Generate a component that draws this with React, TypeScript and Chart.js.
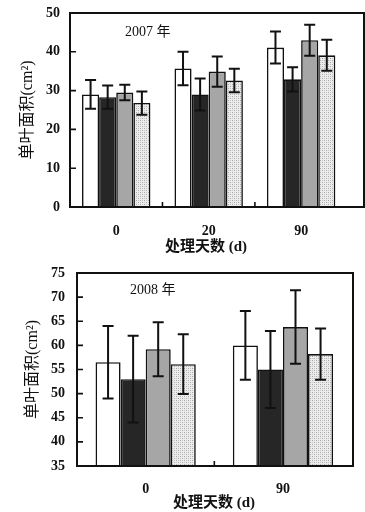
import React, { useEffect, useRef } from "react";
import { Chart, registerables } from "chart.js";

Chart.register(...registerables);

// ---- 2007 data ----
const categories2007 = ["0", "20", "90"];
const a2007 = [29, 35.7, 41.1];
const b2007 = [28.3, 29, 32.9];
const c2007 = [29.5, 34.9, 43];
const d2007 = [26.8, 32.6, 39.1];
const aErr2007 = [3.7, 4.3, 4.1];
const bErr2007 = [3, 4.1, 3.1];
const cErr2007 = [2, 3.9, 4];
const dErr2007 = [3, 3, 4];
const yTicks2007 = [0, 10, 20, 30, 40, 50];

// ---- 2008 data ----
const categories2008 = ["0", "90"];
const a2008 = [56.5, 60];
const b2008 = [53, 55];
const c2008 = [59.2, 63.8];
const d2008 = [56.1, 58.2];
const aErr2008 = [7.5, 7.1];
const bErr2008 = [9, 8];
const cErr2008 = [5.6, 7.6];
const dErr2008 = [6.2, 5.3];
const yTicks2008 = [35, 40, 45, 50, 55, 60, 65, 70, 75];

const yTitle = "单叶面积(cm²)";
const xTitle = "处理天数 (d)";
const year2007 = "2007 年";
const year2008 = "2008 年";

const FONT = "'Liberation Serif', 'Noto Sans CJK SC', serif";

function makePattern(): CanvasPattern | string {
  const c = document.createElement("canvas");
  c.width = 4;
  c.height = 4;
  const ctx = c.getContext("2d");
  if (!ctx) return "#d8d8d8";
  ctx.fillStyle = "#ececec";
  ctx.fillRect(0, 0, 4, 4);
  ctx.fillStyle = "#a8a8a8";
  ctx.fillRect(0, 0, 1, 1);
  ctx.fillRect(2, 2, 1, 1);
  ctx.fillStyle = "#c8c8c8";
  ctx.fillRect(2, 0, 1, 1);
  ctx.fillRect(0, 2, 1, 1);
  const p = ctx.createPattern(c, "repeat");
  return p || "#d8d8d8";
}

interface Spec {
  categories: string[];
  series: number[][];
  errors: number[][];
  yTicks: number[];
  yMin: number;
  yMax: number;
  xMax: number;
  yAxisWidth: number;
  yLabelPad: number;
  rightPad: number;
  xAxisHeight: number;
  catPct: number;
  year: string;
  yearX: number;
  yearY: number;
  yTitleX: number;
  xTitleX: number;
  xTitleY: number;
  labelPad: number;
}

function buildChart(canvas: HTMLCanvasElement, s: Spec) {
  const fills: (string | CanvasPattern)[] = ["#ffffff", "#262626", "#a6a6a6", makePattern()];
  const datasets = s.series.map((vals, i) => ({
    data: s.categories.map((_, j) => ({ x: j, y: vals[j] })),
    backgroundColor: fills[i],
    borderColor: "#111",
    borderWidth: 1.6,
    borderSkipped: "bottom" as const,
    categoryPercentage: s.catPct,
    barPercentage: 1,
  }));

  const decor = {
    id: "decor",
    afterDatasetsDraw(chart: any) {
      const ctx = chart.ctx;
      const y = chart.scales.y;
      ctx.save();
      ctx.strokeStyle = "#111";
      ctx.lineWidth = 2;
      chart.data.datasets.forEach((_: any, i: number) => {
        const meta = chart.getDatasetMeta(i);
        meta.data.forEach((bar: any, j: number) => {
          const v = s.series[i][j];
          const e = s.errors[i][j];
          const x = bar.x;
          const yt = y.getPixelForValue(v + e);
          const yb = y.getPixelForValue(v - e);
          ctx.beginPath();
          ctx.moveTo(x, yt);
          ctx.lineTo(x, yb);
          ctx.moveTo(x - 5.5, yt);
          ctx.lineTo(x + 5.5, yt);
          ctx.moveTo(x - 5.5, yb);
          ctx.lineTo(x + 5.5, yb);
          ctx.stroke();
        });
      });
      ctx.restore();
    },
    afterDraw(chart: any) {
      const ctx = chart.ctx;
      const a = chart.chartArea;
      const x = chart.scales.x;
      const y = chart.scales.y;
      ctx.save();
      ctx.strokeStyle = "#111";
      ctx.lineWidth = 2;
      ctx.strokeRect(a.left, a.top, a.right - a.left, a.bottom - a.top);
      ctx.lineWidth = 1.6;
      ctx.beginPath();
      s.yTicks.forEach((t) => {
        const py = y.getPixelForValue(t);
        if (t === s.yMin || t === s.yMax) return;
        ctx.moveTo(a.left, py);
        ctx.lineTo(a.left + 6, py);
      });
      for (let j = 0; j < s.categories.length - 1; j++) {
        const px = x.getPixelForValue(j + 0.5);
        ctx.moveTo(px, a.bottom);
        ctx.lineTo(px, a.bottom - 5);
      }
      ctx.stroke();

      ctx.fillStyle = "#111";
      ctx.textAlign = "left";
      ctx.textBaseline = "middle";
      ctx.font = `14px ${FONT}`;
      ctx.fillText(s.year, s.yearX, s.yearY);

      ctx.textAlign = "center";
      ctx.font = `bold 15px ${FONT}`;
      ctx.fillText(xTitle, s.xTitleX, s.xTitleY);

      ctx.save();
      ctx.translate(s.yTitleX, (a.top + a.bottom) / 2);
      ctx.rotate(-Math.PI / 2);
      ctx.font = `16px ${FONT}`;
      ctx.fillText(yTitle, 0, 0);
      ctx.restore();
      ctx.restore();
    },
  };

  return new Chart(canvas, {
    type: "bar",
    data: { datasets: datasets as any },
    options: {
      animation: false,
      responsive: false,
      maintainAspectRatio: false,
      layout: { padding: { top: 13, right: s.rightPad, left: 0, bottom: 0 } },
      plugins: { legend: { display: false }, tooltip: { enabled: false } },
      scales: {
        x: {
          type: "linear",
          offset: false,
          min: -0.5,
          max: s.xMax,
          grace: 0,
          grid: { display: false, drawTicks: false, offset: false },
          border: { display: false },
          afterBuildTicks: (sc: any) => {
            sc.ticks = s.categories.map((_, j) => ({ value: j }));
          },
          afterFit: (sc: any) => {
            sc.height = s.xAxisHeight;
            sc.paddingLeft = 0;
            sc.paddingRight = 0;
          },
          ticks: {
            padding: s.labelPad,
            color: "#111",
            font: { family: FONT, size: 14, weight: "bold" },
            callback: (v: any) => s.categories[Math.round(Number(v))] ?? "",
          },
        },
        y: {
          min: s.yMin,
          max: s.yMax,
          grid: { display: false, drawTicks: false },
          border: { display: false },
          afterBuildTicks: (sc: any) => {
            sc.ticks = s.yTicks.map((t) => ({ value: t }));
          },
          afterFit: (sc: any) => {
            sc.width = s.yAxisWidth;
            sc.paddingTop = 0;
            sc.paddingBottom = 0;
          },
          ticks: {
            padding: s.yLabelPad,
            color: "#111",
            font: { family: FONT, size: 14, weight: "bold" },
          },
        },
      },
    },
    plugins: [decor],
  });
}

const spec2007: Spec = {
  categories: categories2007,
  series: [a2007, b2007, c2007, d2007],
  errors: [aErr2007, bErr2007, cErr2007, dErr2007],
  yTicks: yTicks2007,
  yMin: 0,
  yMax: 50,
  xMax: 2.68,
  yAxisWidth: 70,
  yLabelPad: 10,
  rightPad: 1,
  xAxisHeight: 53,
  catPct: 0.74,
  year: year2007,
  yearX: 125,
  yearY: 32,
  yTitleX: 28,
  xTitleX: 206,
  xTitleY: 247,
  labelPad: 16,
};

const spec2008: Spec = {
  categories: categories2008,
  series: [a2008, b2008, c2008, d2008],
  errors: [aErr2008, bErr2008, cErr2008, dErr2008],
  yTicks: yTicks2008,
  yMin: 35,
  yMax: 75,
  xMax: 1.51,
  yAxisWidth: 77,
  yLabelPad: 12,
  rightPad: 12,
  xAxisHeight: 46,
  catPct: 0.73,
  year: year2008,
  yearX: 130,
  yearY: 30,
  yTitleX: 33,
  xTitleX: 214,
  xTitleY: 243,
  labelPad: 15,
};

function BarPanel({ spec, top, height }: { spec: Spec; top: number; height: number }) {
  const ref = useRef<HTMLCanvasElement | null>(null);
  useEffect(() => {
    if (!ref.current) return;
    const ch = buildChart(ref.current, spec);
    return () => ch.destroy();
  }, [spec]);
  return (
    <canvas
      ref={ref}
      width={365}
      height={height}
      style={{ position: "absolute", left: 0, top, width: 365, height }}
    />
  );
}

export default function App() {
  return (
    <div
      style={{
        position: "fixed",
        left: 0,
        top: 0,
        width: 365,
        height: 512,
        background: "#fff",
        overflow: "hidden",
      }}
    >
      <BarPanel spec={spec2007} top={0} height={260} />
      <BarPanel spec={spec2008} top={260} height={252} />
    </div>
  );
}
